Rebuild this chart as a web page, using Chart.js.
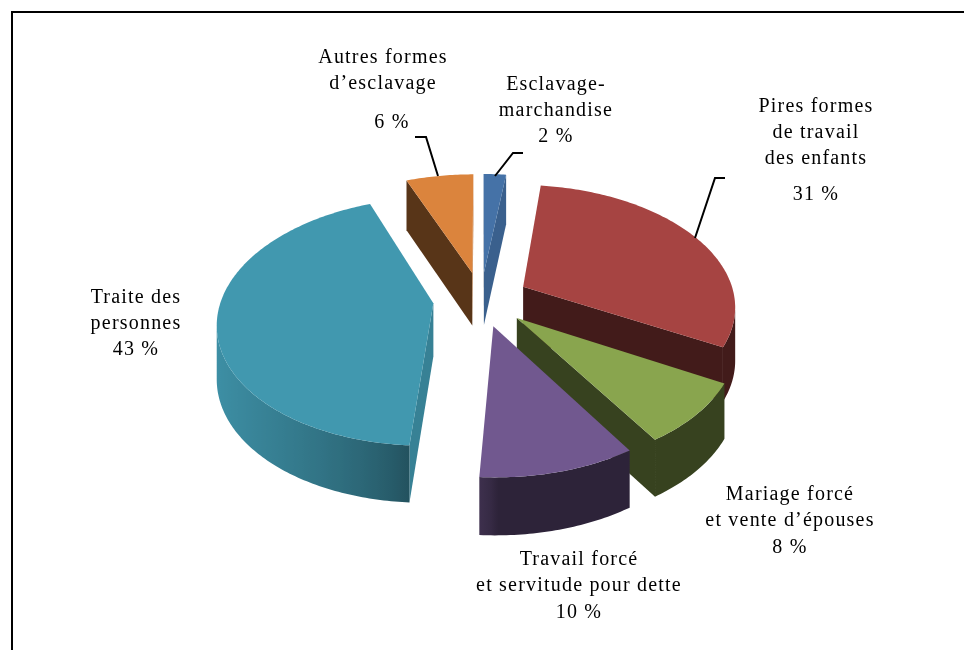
<!DOCTYPE html>
<html>
<head>
<meta charset="utf-8">
<script src="https://cdn.jsdelivr.net/npm/chart.js@4/dist/chart.umd.min.js"></script>
<style>
  html, body { margin: 0; padding: 0; background: #fff; overflow: hidden; }
  #wrap { position: relative; width: 964px; height: 650px; overflow: hidden; }
  #frame { position: absolute; left: 11px; top: 11px; width: 1000px; height: 700px; border: 2px solid #000; }
  #chart { position: absolute; left: 0; top: 0; }
</style>
</head>
<body>
<div id="wrap">
  <div id="frame"></div>
  <canvas id="chart" width="964" height="650"></canvas>
</div>
<script>
// data, clockwise from 12 o'clock
const categories = [
    'Esclavage-marchandise',
    'Pires formes de travail des enfants',
    'Mariage forcé et vente d’épouses',
    'Travail forcé et servitude pour dette',
    'Traite des personnes',
    'Autres formes d’esclavage'
];
const shares = [2, 31, 8, 10, 43, 6];
const labelLines = [
    ['Esclavage-', 'marchandise'],
    ['Pires formes', 'de travail', 'des enfants'],
    ['Mariage forcé', 'et vente d’épouses'],
    ['Travail forcé', 'et servitude pour dette'],
    ['Traite des', 'personnes'],
    ['Autres formes', 'd’esclavage']
];
const sliceColors = ['#4572A7', '#A64442', '#89A54E', '#71588F', '#4198AF', '#DB843D'];

// where each label sits (x centre, line centres, then the percentage line)
const labelPlaces = [
    { x: 556, ys: [85, 111], py: 137 },
    { x: 816, ys: [107, 133, 159], py: 195 },
    { x: 790, ys: [495, 521], py: 548 },
    { x: 579, ys: [560, 586], py: 613 },
    { x: 136, ys: [298, 324], py: 350 },
    { x: 383, ys: [58, 84], py: 123, px: 392 }
];
// leader lines (only for the top labels)
const leaders = [
    [[523, 153], [513, 153], [495, 176]],
    [[725, 178], [715, 178], [695, 238]],
    null, null, null,
    [[415, 137], [426, 137], [438, 176]]
];

const TILT = 0.567;     // vertical squash of the pie plane
const PERSP = 0.1463;   // how much the front grows
const shade = (hex, f) => {
    const n = parseInt(hex.slice(1), 16);
    const r = Math.round(((n >> 16) & 255) * f);
    const g = Math.round(((n >> 8) & 255) * f);
    const b = Math.round((n & 255) * f);
    return `rgb(${r},${g},${b})`;
};

function project(cx, cy, R, X, Z) {
    const w = 1 / (1 - PERSP * Z / R);
    return { x: cx + X * w, y: cy + TILT * Z * w, w: w };
}
const depthAt = w => 30 + 23 * w;
const down = p => ({ x: p.x, y: p.y + depthAt(p.w) });

function polyArea(pts) {
    let s = 0;
    for (let i = 0; i < pts.length; i++) {
        const a = pts[i], b = pts[(i + 1) % pts.length];
        s += a.x * b.y - b.x * a.y;
    }
    return s / 2;
}
function fillPoly(ctx, pts, style) {
    ctx.beginPath();
    ctx.moveTo(pts[0].x, pts[0].y);
    for (let i = 1; i < pts.length; i++) ctx.lineTo(pts[i].x, pts[i].y);
    ctx.closePath();
    ctx.fillStyle = style;
    ctx.fill();
}

function drawSlice(ctx, el, color) {
    const cx = el.x, cy = el.y, R = el.outerRadius;
    const s = el.startAngle, e = el.endAngle;
    const off = el.options.offset || 0;
    const m = (s + e) / 2;
    const ox = Math.cos(m) * off, oz = Math.sin(m) * off;
    const pt = (rho, a) => project(cx, cy, R, ox + rho * Math.cos(a), oz + rho * Math.sin(a));

    const n = Math.max(2, Math.ceil((e - s) / 0.015));
    const arc = [], angs = [];
    for (let i = 0; i <= n; i++) {
        const a = s + (e - s) * i / n;
        angs.push(a);
        arc.push(pt(R, a));
    }
    const apex = pt(0, 0);

    // radial faces, lit from the right
    const radialLight = a => {
        const deg = (a + Math.PI / 2) * 180 / Math.PI; // normal, clockwise from top
        return 0.4 + 0.45 * Math.max(0, Math.cos((deg - 90) * Math.PI / 180));
    };
    const faces = [
        { p: apex, q: arc[0], nrm: s - Math.PI / 2 },
        { p: arc[n], q: apex, nrm: e + Math.PI / 2 }
    ];
    faces.forEach(f => {
        const quad = [f.p, f.q, down(f.q), down(f.p)];
        if (polyArea(quad) < 0) fillPoly(ctx, quad, shade(color, radialLight(f.nrm)));
    });

    // outer wall, lit from the left
    const wallLight = a => {
        const deg = (a + Math.PI / 2) * 180 / Math.PI;
        return 0.4 + 0.55 * Math.sqrt(Math.max(0, Math.cos((deg - 270) * Math.PI / 180)));
    };
    let run = [];
    const flush = () => {
        if (run.length < 2) { run = []; return; }
        const top = run.map(i => arc[i]);
        const bot = run.map(i => down(arc[i])).reverse();
        const xs = top.map(p => p.x);
        const x0 = Math.min(...xs), x1 = Math.max(...xs);
        const grad = ctx.createLinearGradient(x0, 0, x1 + 0.01, 0);
        run.forEach(i => {
            const t = x1 > x0 ? (arc[i].x - x0) / (x1 - x0) : 0;
            grad.addColorStop(Math.min(1, Math.max(0, t)), shade(color, wallLight(angs[i])));
        });
        fillPoly(ctx, top.concat(bot), grad);
        run = [];
    };
    for (let i = 0; i < n; i++) {
        const quad = [arc[i], arc[i + 1], down(arc[i + 1]), down(arc[i])];
        if (polyArea(quad) < 0) {
            if (run.length === 0) run.push(i);
            run.push(i + 1);
        } else {
            flush();
        }
    }
    flush();

    // top face
    fillPoly(ctx, [apex].concat(arc), color);
}

const pie3d = {
    id: 'pie3d',
    beforeDatasetsDraw(chart) {
        const ctx = chart.ctx;
        const meta = chart.getDatasetMeta(0);
        const order = meta.data.map((el, i) => i)
            .sort((a, b) => {
                const ea = meta.data[a], eb = meta.data[b];
                return Math.sin((ea.startAngle + ea.endAngle) / 2) - Math.sin((eb.startAngle + eb.endAngle) / 2);
            });
        ctx.save();
        order.forEach(i => drawSlice(ctx, meta.data[i], sliceColors[i]));
        ctx.restore();
        return false;
    },
    afterDraw(chart) {
        const ctx = chart.ctx;
        ctx.save();
        ctx.fillStyle = '#000';
        ctx.font = '20px "Liberation Serif", "Times New Roman", serif';
        ctx.letterSpacing = '1.2px';
        ctx.textAlign = 'center';
        ctx.textBaseline = 'middle';
        labelLines.forEach((lines, i) => {
            const pl = labelPlaces[i];
            lines.forEach((txt, j) => ctx.fillText(txt, pl.x, pl.ys[j]));
            ctx.fillText(shares[i] + ' %', pl.px || pl.x, pl.py);
        });
        ctx.strokeStyle = '#000';
        ctx.lineWidth = 2;
        leaders.forEach(pts => {
            if (!pts) return;
            ctx.beginPath();
            ctx.moveTo(pts[0][0], pts[0][1]);
            pts.slice(1).forEach(p => ctx.lineTo(p[0], p[1]));
            ctx.stroke();
        });
        ctx.restore();
    }
};

new Chart(document.getElementById('chart'), {
    type: 'pie',
    data: {
        labels: categories,
        datasets: [{
            data: shares,
            backgroundColor: sliceColors,
            borderWidth: 0,
            offset: 48
        }]
    },
    options: {
        responsive: false,
        animation: false,
        radius: 212,
        layout: { padding: { left: 0, right: 2, top: 0, bottom: 52 } },
        plugins: { legend: { display: false }, tooltip: { enabled: false } },
        events: []
    },
    plugins: [pie3d]
});
</script>
</body>
</html>
